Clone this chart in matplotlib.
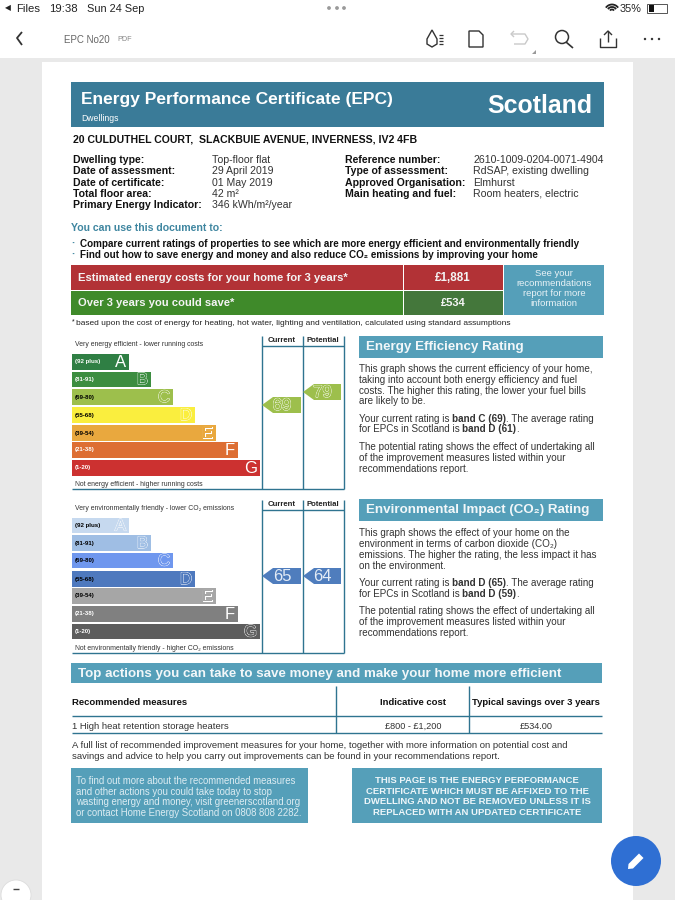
"""
plot.py - EPC certificate page (screenshot of a PDF viewer), drawn on one pixel-sized axes.
"""
import matplotlib
matplotlib.use('Agg')
import matplotlib.pyplot as plt
import matplotlib.patheffects as pe
from matplotlib.patches import Rectangle, Polygon, Circle, Arc

plt.rcParams['font.family'] = ['Liberation Sans', 'DejaVu Sans']

# --- data ---
band_letters = ['A', 'B', 'C', 'D', 'E', 'F', 'G']
band_ranges = ['(92 plus)', '(81-91)', '(69-80)', '(55-68)', '(39-54)', '(21-38)', '(1-20)']
band_lengths = [57, 79, 101, 123, 144, 166, 188]
eff_colors = ['#2f7f44', '#3c8d40', '#9dbf4c', '#faee3e', '#e9a83e', '#dd6e33', '#cc3130']
env_colors = ['#c6d9ef', '#9fbee4', '#6f97ee', '#4e79be', '#a6a6a6', '#808080', '#5d5d5d']
eff_range_colors = ['white', 'white', 'black', 'black', 'black', 'white', 'white']
env_range_colors = ['black', 'black', 'black', 'black', 'black', 'white', 'white']
eff_letter_colors = ['white', '#3c8d40', '#9dbf4c', '#faee3e', '#e9a83e', 'white', 'white']
env_letter_colors = ['#c6d9ef', '#9fbee4', '#6f97ee', '#4e79be', '#a6a6a6', 'white', '#5d5d5d']
eff_current, eff_potential = 69, 79
env_current, env_potential = 65, 64

details_left = ['Dwelling type:', 'Date of assessment:', 'Date of certificate:',
                'Total floor area:', 'Primary Energy Indicator:']
values_left = ['Top-floor flat', '29 April 2019', '01 May 2019', '42 m²', '346 kWh/m²/year']
details_right = ['Reference number:', 'Type of assessment:', 'Approved Organisation:',
                 'Main heating and fuel:']
values_right = ['2610-1009-0204-0071-4904', 'RdSAP, existing dwelling', 'Elmhurst',
                'Room heaters, electric']

eff_body = [(368, 'This graph shows the current efficiency of your home,'),
            (379, 'taking into account both energy efficiency and fuel'),
            (390, 'costs. The higher this rating, the lower your fuel bills'),
            (400, 'are likely to be.'),
            (446, 'The potential rating shows the effect of undertaking all'),
            (457, 'of the improvement measures listed within your'),
            (468, 'recommendations report.')]
env_body = [(532, 'This graph shows the effect of your home on the'),
            (543, 'environment in terms of carbon dioxide (CO₂)'),
            (554, 'emissions. The higher the rating, the less impact it has'),
            (565, 'on the environment.'),
            (610, 'The potential rating shows the effect of undertaking all'),
            (621, 'of the improvement measures listed within your'),
            (632, 'recommendations report.')]

TEAL = '#559fb9'
DARK_TEAL = '#3a7b98'
LINE = '#2f7490'

fig = plt.figure(figsize=(6.75, 9), dpi=100, facecolor='white')
ax = fig.add_axes([0, 0, 1, 1])
ax.set_xlim(0, 675)
ax.set_ylim(900, 0)
ax.axis('off')


def rect(x0, y0, x1, y1, color, z=1):
    ax.add_patch(Rectangle((x0, y0), x1 - x0, y1 - y0, fc=color, ec='none', zorder=z))


def txt(x, y, s, size=7, bold=False, color='#111111', ha='left', **kw):
    ax.text(x, y + 0.7, s, fontsize=size, fontweight='bold' if bold else 'normal', color=color,
            ha=ha, va='center', zorder=5, **kw)


def line(xs, ys, color=LINE, lw=1.0, z=3):
    ax.plot(xs, ys, color=color, lw=lw, zorder=z, solid_capstyle='butt')


def rating_chart(top, tops, bots, hdr_y, bottom, colors, range_colors, letter_colors,
                 cap_top, cap_bot, cap_top_y, cap_bot_y, current, potential, y_cur, y_pot,
                 arrow_color, num_color, num_edge):
    for y0, y1, n, lbl, c, rc, lc, let in zip(tops, bots, band_lengths, band_ranges, colors,
                                              range_colors, letter_colors, band_letters):
        rect(72, y0, 72 + n, y1, c, 2)
        txt(75, (y0 + y1) / 2 - 0.7, lbl, 4.4, True, rc)
        # white letters are plain, the others are band colour with a thin white edge
        fx = [] if lc == 'white' else [pe.withStroke(linewidth=0.8, foreground='white'), pe.Normal()]
        ax.text(72 + n - 3, (y0 + y1) / 2 + 0.5, let, fontsize=12, ha='right', va='center', color=lc,
                zorder=5, path_effects=fx)
    for x in (262, 303, 344):
        line([x, x], [top, bottom])
    line([262, 344], [hdr_y, hdr_y])
    line([72, 344], [bottom, bottom])
    txt(282, top + 4, 'Current', 5.6, True, '#222222', ha='center')
    txt(322.5, top + 4, 'Potential', 5.6, True, '#222222', ha='center')
    txt(75, cap_top_y, cap_top, 4.98, False, '#333333')
    txt(75, cap_bot_y, cap_bot, 4.98, False, '#333333')
    for x_tip, x_neck, x_end, y, v in ((262, 273, 301, y_cur, current), (303, 314, 341, y_pot, potential)):
        ax.add_patch(Polygon([(x_tip, y), (x_neck, y - 8), (x_end, y - 8), (x_end, y + 8), (x_neck, y + 8)],
                             fc=arrow_color, ec='none', zorder=4))
        fx = [pe.withStroke(linewidth=0.8, foreground='white'), pe.Normal()] if num_edge else []
        ax.text((x_neck + x_end) / 2 - 5, y + 0.5, str(v), fontsize=12, ha='center', va='center',
                color=num_color, zorder=5, path_effects=fx)


# viewer background and page
rect(0, 58, 675, 900, '#e9e9e9', 0)
rect(42, 62, 633, 900, 'white', 0.5)

# status bar
txt(5, 8, '◀', 5.5, color='#222222')
txt(16, 8, 'Files', 8.2, color='#222222')
txt(49, 8, '19:38', 8.2, color='#222222')
txt(87, 8, 'Sun 24 Sep', 7.9, color='#222222')
for x in (329, 337, 344):
    ax.add_patch(Circle((x, 8), 1.9, fc='#9a9a9a', ec='none'))
for r in (2.5, 5, 7.5):
    ax.add_patch(Arc((612, 12), r * 2, r * 2, theta1=215, theta2=325, color='#222222', lw=1.3))
txt(620, 8, '35%', 7.8, color='#222222')
ax.add_patch(Rectangle((647, 3.5), 20, 9.5, fc='white', ec='#555555', lw=0.7))
rect(648.5, 5, 654, 11.5, '#111111', 3)

# toolbar
line([22, 17, 22], [32, 38, 45], '#333333', 1.3)
txt(64, 39, 'EPC No20', 7, color='#666666')
txt(117, 39, 'PDF', 5.2, color='#888888')
ax.add_patch(Polygon([(432, 30), (437, 39), (437, 44), (432, 47), (427, 44), (427, 39)],
                     fc='white', ec='#333333', lw=1))
for y in (35, 38, 41, 44):
    line([439, 443], [y, y], '#333333', 0.9)
ax.add_patch(Polygon([(469, 31), (479, 31), (483, 35), (483, 47), (469, 47)],
                     fc='white', ec='#333333', lw=1))
line([511, 525, 528, 525, 514], [34, 34, 39, 44, 44], '#c9c9c9', 1)
line([514, 511, 514], [31, 34, 37], '#c9c9c9', 1)
ax.add_patch(Polygon([(532, 54), (536, 50), (536, 54)], fc='#999999', ec='none'))
ax.add_patch(Circle((562, 37), 6.5, fc='none', ec='#333333', lw=1.1))
line([566, 573], [42, 48], '#333333', 1.2)
line([600, 600, 616, 616], [38, 47, 47, 38], '#333333', 1)
line([608, 608], [31, 42], '#333333', 1)
line([604, 608, 612], [35, 31, 35], '#333333', 1)
for x in (645, 652, 659):
    ax.add_patch(Circle((x, 39), 1.2, fc='#333333', ec='none'))

# title band
rect(71, 82, 604, 127, DARK_TEAL)
txt(81, 99, 'Energy Performance Certificate (EPC)', 12.5, True, 'white')
txt(81, 118, 'Dwellings', 6.2, False, 'white')
txt(592, 105, 'Scotland', 17.9, True, 'white', ha='right')
txt(73, 139, '20 CULDUTHEL COURT,  SLACKBUIE AVENUE, INVERNESS, IV2 4FB', 7.6, True)

# property details
for i, (a, b) in enumerate(zip(details_left, values_left)):
    y = 159 + i * 11.4
    txt(73, y, a, 7.6, True)
    txt(212, y, b, 7.6, False, '#333333')
for i, (a, b) in enumerate(zip(details_right, values_right)):
    y = 159 + i * 11.4
    txt(345, y, a, 7.6, True)
    txt(473, y, b, 7.6, False, '#333333')

txt(71, 227, 'You can use this document to:', 7.6, True, '#3f86a0')
txt(71, 243, '·', 8, True, '#3f86a0')
txt(71, 254, '·', 8, True, '#3f86a0')
txt(80, 243, 'Compare current ratings of properties to see which are more energy efficient and environmentally friendly',
    7.13, True)
txt(80, 254, 'Find out how to save energy and money and also reduce CO₂ emissions by improving your home',
    7.13, True)

# cost table
rect(71, 265, 403, 289.5, '#b23236')
rect(403.5, 265, 503, 289.5, '#b23236')
rect(71, 290.5, 403, 315, '#3f8a2a')
rect(403.5, 290.5, 503, 315, '#44773b')
rect(504, 265, 604, 315, TEAL)
txt(78, 277, 'Estimated energy costs for your home for 3 years*', 8.13, True, '#f4f4f4')
txt(78, 302, 'Over 3 years you could save*', 8.13, True, '#f4f4f4')
txt(453, 277, '£1,881', 8.4, True, '#f4f4f4', ha='center')
txt(453, 302, '£534', 8, True, '#f4f4f4', ha='center')
for y, s in zip((273, 283, 293, 303), ('See your', 'recommendations', 'report for more', 'information')):
    txt(554, y, s, 6.8, False, '#e8f2f6', ha='center')
txt(72, 321, '*', 5)
txt(76, 323, 'based upon the cost of energy for heating, hot water, lighting and ventilation, calculated using standard assumptions',
    6.04, False, '#222222')

eff_tops = [354, 371.5, 389, 407, 425, 442, 460]
eff_bots = [370, 387, 405, 423, 441, 458, 476]
env_tops = [518, 535, 553, 571, 588, 606, 624]
env_bots = [533, 551, 568, 587, 604, 622, 639]
rating_chart(336, eff_tops, eff_bots, 346, 489, eff_colors, eff_range_colors, eff_letter_colors,
             'Very energy efficient - lower running costs', 'Not energy efficient - higher running costs',
             344, 484, eff_current, eff_potential, 405, 392, '#9dbf4c', '#9dbf4c', True)
rating_chart(500, env_tops, env_bots, 510, 653, env_colors, env_range_colors, env_letter_colors,
             'Very environmentally friendly - lower CO₂ emissions', 'Not environmentally friendly - higher CO₂ emissions',
             508, 648, env_current, env_potential, 576, 576, '#4f7dbd', '#e4ecf6', False)

# right hand text
rect(359, 336, 603, 358, TEAL)
rect(359, 499, 603, 521, TEAL)
txt(366, 346, 'Energy Efficiency Rating', 9.65, True, '#f2f7f9')
txt(366, 509, 'Environmental Impact (CO₂) Rating', 9.65, True, '#f2f7f9')
for y, s in eff_body + env_body:
    txt(359, y, s, 7.1, False, '#333333')
for y0, y1, a, b, c, d in ((418, 428.5, 'band C (69)', '. The average rating', 'band D (61)', '.'),
                           (582, 593, 'band D (65)', '. The average rating', 'band D (59)', '.')):
    t = ax.annotate('Your current rating is ', (359, y0 + 0.7), fontsize=7.1, color='#333333', va='center', zorder=5)
    t2 = ax.annotate(a, xycoords=t, xy=(1, 0.5), fontsize=7.1, fontweight='bold', color='#333333', va='center', zorder=5)
    ax.annotate(b, xycoords=t2, xy=(1, 0.5), fontsize=7.1, color='#333333', va='center', zorder=5)
    t3 = ax.annotate('for EPCs in Scotland is ', (359, y1 + 0.7), fontsize=7.1, color='#333333', va='center', zorder=5)
    t4 = ax.annotate(c, xycoords=t3, xy=(1, 0.5), fontsize=7.1, fontweight='bold', color='#333333', va='center', zorder=5)
    ax.annotate(d, xycoords=t4, xy=(1, 0.5), fontsize=7.1, color='#333333', va='center', zorder=5)

# actions
rect(71, 663, 602, 683, TEAL)
txt(78, 673, 'Top actions you can take to save money and make your home more efficient', 9.68, True, '#f2f7f9')
txt(72, 702, 'Recommended measures', 6.8, True)
txt(413, 702, 'Indicative cost', 6.8, True, ha='center')
txt(536, 702, 'Typical savings over 3 years', 6.8, True, ha='center')
txt(72, 726, '1 High heat retention storage heaters', 6.8, False, '#333333')
txt(413, 726, '£800 - £1,200', 6.6, False, '#333333', ha='center')
txt(536, 726, '£534.00', 6.6, False, '#333333', ha='center')
line([72, 602], [715.5, 715.5])
line([72, 602], [733, 733])
line([336, 336], [686, 733])
line([469, 469], [686, 733])
txt(72, 745, 'A full list of recommended improvement measures for your home, together with more information on potential cost and',
    6.8, False, '#333333')
txt(72, 756, 'savings and advice to help you carry out improvements can be found in your recommendations report.',
    6.8, False, '#333333')

rect(71, 768, 308, 823, TEAL)
rect(352, 768, 602, 823, TEAL)
for y, s in zip((780, 791, 801, 812), ('To find out more about the recommended measures',
                                       'and other actions you could take today to stop',
                                       'wasting energy and money, visit greenerscotland.org',
                                       'or contact Home Energy Scotland on 0808 808 2282.')):
    txt(76, y, s, 6.9, False, '#dcecf2')
for y, s in zip((780, 791, 801, 812), ('THIS PAGE IS THE ENERGY PERFORMANCE',
                                       'CERTIFICATE WHICH MUST BE AFFIXED TO THE',
                                       'DWELLING AND NOT BE REMOVED UNLESS IT IS',
                                       'REPLACED WITH AN UPDATED CERTIFICATE')):
    txt(477, y, s, 6.8, True, '#eef6f9', ha='center')

# floating buttons
ax.add_patch(Circle((636, 861), 25, fc='#2f6fd3', ec='none', zorder=6))
ax.add_patch(Polygon([(628, 869), (628.5, 864), (639, 853.5), (643.5, 858), (633, 868.5)],
                     fc='white', ec='none', zorder=7))
ax.add_patch(Circle((16, 895), 15, fc='white', ec='#dddddd', lw=0.6, zorder=6))
line([13, 19], [889, 889], '#444444', 1, 7)

fig.savefig('out.png', dpi=100)
